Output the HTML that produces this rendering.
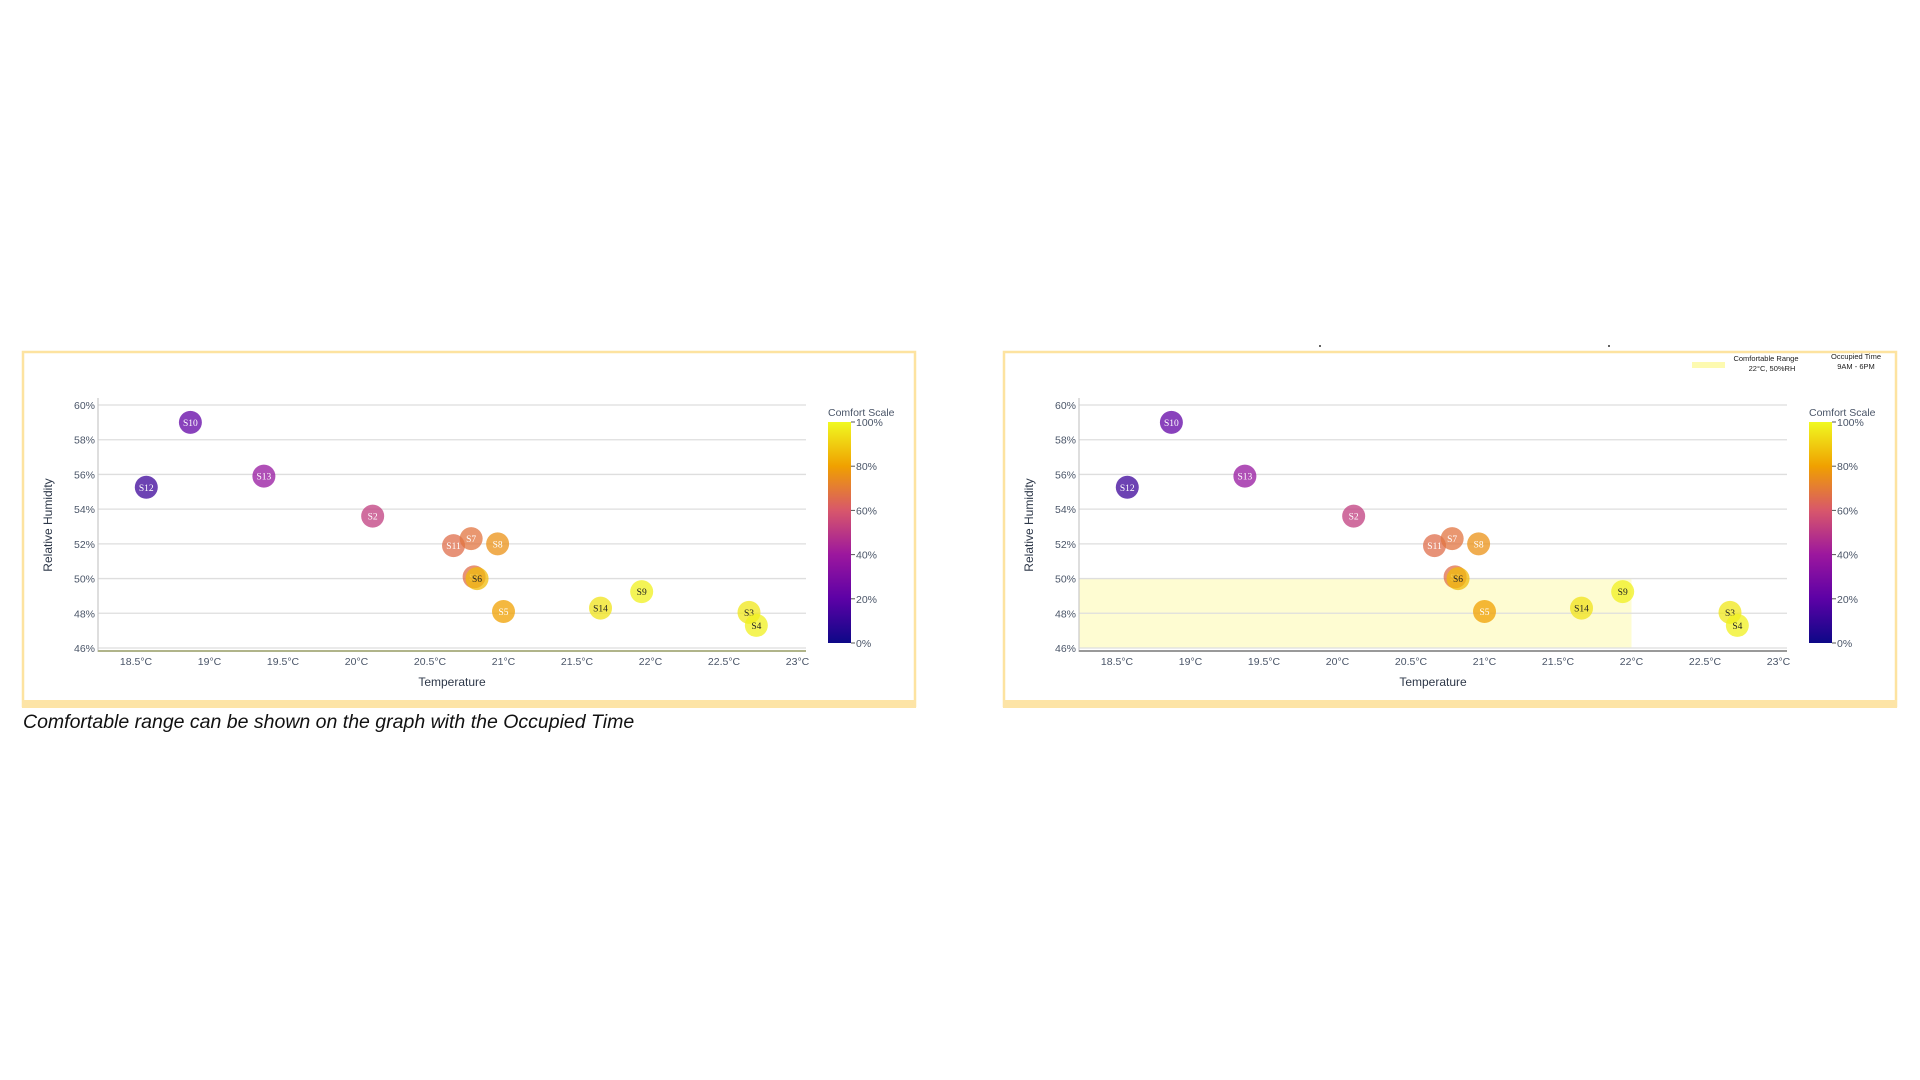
<!DOCTYPE html>
<html><head><meta charset="utf-8">
<style>
html,body{margin:0;padding:0;background:#fff;width:1920px;height:1080px;overflow:hidden;font-family:"Liberation Sans",sans-serif;}
svg{position:absolute;left:0;top:0;}
</style></head>
<body>
<svg id="svg" width="1920" height="1080" viewBox="0 0 1920 1080">
<defs>
<linearGradient id="plasma" x1="0" y1="1" x2="0" y2="0">
<stop offset="0" stop-color="#0d0887"/><stop offset="0.2" stop-color="#5c01a6"/>
<stop offset="0.4" stop-color="#9c179e"/><stop offset="0.6" stop-color="#d8576b"/>
<stop offset="0.8" stop-color="#f0a000"/><stop offset="1" stop-color="#f0f921"/>
</linearGradient>
</defs>
</svg>
<script>
const sensors=["S10","S12","S13","S2","S11","S7","S8","S1","S6","S5","S14","S9","S3","S4"];
const temps=[18.87,18.57,19.37,20.11,20.66,20.78,20.96,20.80,20.82,21.0,21.66,21.94,22.67,22.72];
const humid=[59.0,55.26,55.9,53.6,51.9,52.3,52.0,50.1,50.0,48.1,48.3,49.25,48.05,47.3];
const comfort=[22,12,38,52,66,68,76,66,86,80,95,98,96,98];
const xTicks=[18.5,19,19.5,20,20.5,21,21.5,22,22.5,23];
const yTicks=[46,48,50,52,54,56,58,60];
const cTicks=[0,20,40,60,80,100];
const rangeT=22, rangeRH=50;

const NS="http://www.w3.org/2000/svg";
const svg=document.getElementById('svg');
function mk(tag,attrs,parent,text){const e=document.createElementNS(NS,tag);for(const k in attrs)e.setAttribute(k,attrs[k]);if(text!==undefined)e.textContent=text;(parent||svg).appendChild(e);return e;}
const stops=[[0,[13,8,135]],[0.2,[92,1,166]],[0.4,[156,23,158]],[0.6,[216,87,107]],[0.8,[240,160,0]],[1,[240,249,33]]];
function plasma(v){v=Math.max(0,Math.min(1,v));for(let i=1;i<stops.length;i++){if(v<=stops[i][0]){const a=stops[i-1],b=stops[i];const t=(v-a[0])/(b[0]-a[0]);const c=a[1].map((x,j)=>Math.round(x+(b[1][j]-x)*t));return `rgb(${c.join(',')})`;}}return 'rgb(240,249,33)';}

function drawChart(ox,showRange,idx){
  const px=t=>136+(t-18.5)*147+ox;
  const py=h=>405+(60-h)*(243/14);
  const g=mk('g',{});
  
  
  const fr=mk('rect',{x:23+ox,y:352,width:892,height:354,fill:'none',stroke:'#fde3a0','stroke-width':2.5},g);
  
  const bb=mk('rect',{x:22+ox,y:700,width:894,height:8,fill:'#fde4a6'},g);
  
  if(showRange){
    const r=mk('rect',{x:98+ox,y:py(rangeRH),width:px(rangeT)-98-ox,height:py(46)-py(rangeRH),fill:'#fefcd2'},g);
    
  }
  yTicks.forEach(v=>{
    const l=mk('line',{x1:98+ox,x2:806+ox,y1:py(v),y2:py(v),stroke:'#dedede','stroke-width':1.3},g);
    
    const t=mk('text',{x:95+ox,y:py(v)+4,'text-anchor':'end','font-size':10.5,fill:'#4a5568'},g,v+'%');
    
  });
  const ya=mk('line',{x1:98+ox,x2:98+ox,y1:398,y2:652,stroke:'#c8c8c8','stroke-width':1.2},g);
  
  const xa=mk('line',{x1:98+ox,x2:806+ox,y1:651,y2:651,stroke:showRange?'#999':'#b0b48a','stroke-width':2},g);
  
  xTicks.forEach(v=>{
    const t=mk('text',{x:px(v),y:665,'text-anchor':'middle','font-size':10.5,fill:'#4a5568'},g,v+'°C');
    
  });
  const xt=mk('text',{x:452+ox,y:686,'text-anchor':'middle','font-size':12,fill:'#2d3748'},g,'Temperature');
  
  const yt=mk('text',{x:0,y:0,'text-anchor':'middle','font-size':12,fill:'#2d3748',transform:`translate(${52+ox},525) rotate(-90)`},g,'Relative Humidity');
  
  sensors.forEach((s,i)=>{
    const pg=mk('g',{},g);
    
    
    mk('circle',{cx:px(temps[i]),cy:py(humid[i]),r:11.5,fill:plasma(comfort[i]/100),'fill-opacity':0.75},pg);
    mk('text',{x:px(temps[i]),y:py(humid[i])+3.5,'text-anchor':'middle','font-size':9.5,'font-family':'Liberation Serif, serif',fill:comfort[i]>85?'#222':'#fff'},pg,s);
  });
  const cbx=828+ox, cbt=422, cbb=643;
  const cb=mk('rect',{x:cbx,y:cbt,width:23,height:cbb-cbt,fill:'url(#plasma)'},g);
  
  const ct=mk('text',{x:cbx,y:416,'font-size':10.5,fill:'#4a5568'},g,'Comfort Scale');
  
  cTicks.forEach(v=>{
    const yy=cbb-(cbb-cbt)*v/100;
    mk('line',{x1:cbx+23,x2:cbx+27,y1:yy,y2:yy,stroke:'#555'},g);
    const t=mk('text',{x:cbx+28,y:yy+4,'font-size':10.5,fill:'#4a5568'},g,v+'%');
    
  });
  if(showRange){
    const lg=mk('g',{},g);
    
    mk('rect',{x:1692,y:362,width:33,height:6,fill:'#fdfab0'},lg);
    mk('text',{x:1766,y:361,'text-anchor':'middle','font-size':7.5,fill:'#222'},lg,'Comfortable Range');
    mk('text',{x:1772,y:371,'text-anchor':'middle','font-size':7.5,fill:'#222'},lg,'22°C, 50%RH');
    mk('text',{x:1856,y:359,'text-anchor':'middle','font-size':7.5,fill:'#222'},lg,'Occupied Time');
    mk('text',{x:1856,y:369,'text-anchor':'middle','font-size':7.5,fill:'#222'},lg,'9AM - 6PM');
  }
}
drawChart(0,false,'left');
drawChart(981,true,'right');
mk('circle',{cx:1320,cy:346,r:1,fill:'#333'});
mk('circle',{cx:1609,cy:346,r:1,fill:'#333'});
const cap=mk('text',{x:23,y:728,'font-size':19.5,'font-style':'italic',fill:'#111'},svg,'Comfortable range can be shown on the graph with the Occupied Time');


</script>
</body></html>
